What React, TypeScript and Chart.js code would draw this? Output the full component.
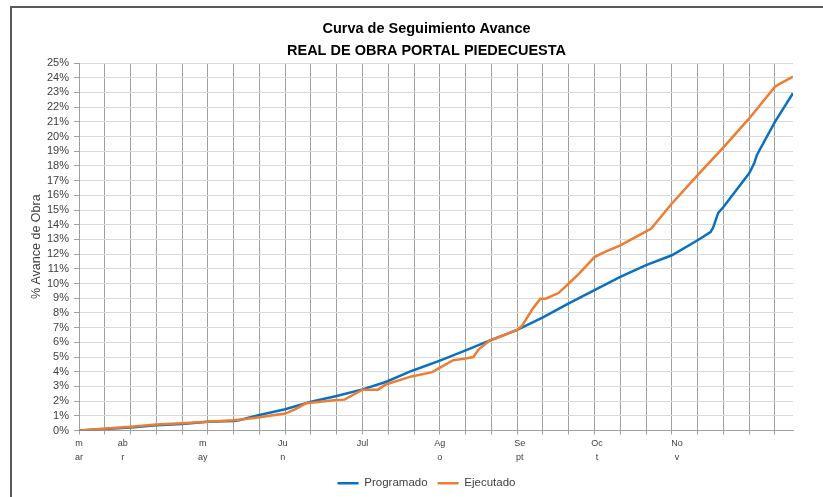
import React, { useEffect, useRef } from 'react';
import { Chart, registerables } from 'chart.js';

Chart.register(...registerables);

const chartTitle = ['Curva de Seguimiento Avance', 'REAL DE OBRA PORTAL PIEDECUESTA'];
const yAxisTitle = '% Avance de Obra';
const seriesNames = ['Programado', 'Ejecutado'];

// day index since start of the series (x) and cumulative % progress (y)
const programadoDays = [0, 5, 20, 30, 40, 50, 60, 62, 70, 80, 90, 100, 110, 119, 129, 140, 150, 159, 170, 180, 190, 200, 210, 220, 230, 240, 245, 246, 248, 250, 260, 262, 263, 270, 277];
const programadoValues = [0, 0.05, 0.2, 0.35, 0.45, 0.6, 0.65, 0.7, 1.05, 1.45, 1.95, 2.35, 2.8, 3.3, 4.05, 4.75, 5.45, 6.1, 6.85, 7.7, 8.65, 9.55, 10.45, 11.25, 11.92, 12.94, 13.5, 13.8, 14.8, 15.2, 17.5, 18.2, 18.75, 21.0, 22.94];

const ejecutadoDays = [0, 20, 30, 40, 50, 60, 63, 70, 80, 84, 88, 100, 103, 110, 116, 119, 129, 137, 145, 150, 153, 155, 159, 170, 172, 176, 179, 181, 186, 190, 194, 200, 204, 210, 220, 222, 230, 240, 250, 260, 270, 272, 277];
const ejecutadoValues = [0, 0.25, 0.4, 0.5, 0.6, 0.7, 0.75, 0.9, 1.15, 1.45, 1.85, 2.08, 2.1, 2.78, 2.78, 3.13, 3.68, 3.97, 4.77, 4.9, 5.0, 5.5, 6.08, 6.85, 7.15, 8.29, 8.97, 8.97, 9.35, 10.0, 10.67, 11.8, 12.15, 12.6, 13.55, 13.74, 15.44, 17.37, 19.26, 21.23, 23.39, 23.6, 24.07];

const monthTickDays = [0, 17, 48, 79, 110, 140, 171, 201, 232];
const monthTickLabels = [['m', 'ar'], ['ab', 'r'], ['m', 'ay'], ['Ju', 'n'], ['Jul'], ['Ag', 'o'], ['Se', 'pt'], ['Oc', 't'], ['No', 'v']];

const gridStepDays = 10;
const lastDay = 277;
const yMin = 0;
const yMax = 25;

const FONT = "'Liberation Sans', Arial, sans-serif";
const BLUE = '#0a70c2';
const ORANGE = '#ed7d31';
const VGRID = '#a0a0a0';
const HGRID = '#d9d9d9';
const TEXT = '#404040';

export default function App() {
  const canvasRef = useRef<HTMLCanvasElement | null>(null);

  useEffect(() => {
    if (!canvasRef.current) return;
    const gridDays: number[] = [];
    for (let d = 0; d <= lastDay; d += gridStepDays) gridDays.push(d);
    const isGrid = (v: any) => typeof v === 'number' && v % gridStepDays === 0;
    const vColor = (ctx: any) => (isGrid(ctx.tick && ctx.tick.value) ? VGRID : 'rgba(0,0,0,0)');

    const chart = new Chart(canvasRef.current, {
      type: 'line',
      data: {
        datasets: [
          {
            label: seriesNames[0],
            data: programadoDays.map((d, i) => ({ x: d, y: programadoValues[i] })),
            borderColor: BLUE,
            backgroundColor: BLUE,
            borderWidth: 2.5,
            pointRadius: 0,
            tension: 0,
            order: 1,
          },
          {
            label: seriesNames[1],
            data: ejecutadoDays.map((d, i) => ({ x: d, y: ejecutadoValues[i] })),
            borderColor: ORANGE,
            backgroundColor: ORANGE,
            borderWidth: 2.5,
            pointRadius: 0,
            tension: 0,
            order: 0,
          },
        ],
      },
      options: {
        animation: false,
        responsive: true,
        maintainAspectRatio: false,
        layout: { padding: { left: 30, right: 0, top: 0, bottom: -2 } },
        plugins: {
          title: {
            display: true,
            text: chartTitle,
            color: '#000',
            font: { family: FONT, size: 14.5, weight: 'bold', lineHeight: 22 / 14.5 },
            padding: { top: 18, bottom: 1 },
          },
          legend: {
            position: 'bottom',
            labels: {
              usePointStyle: true,
              pointStyle: 'line',
              pointStyleWidth: 21,
              color: TEXT,
              font: { family: FONT, size: 11.5 },
              padding: 10,
              sort: (a: any, b: any) => a.datasetIndex - b.datasetIndex,
            },
          },
          tooltip: { enabled: false },
        },
        scales: {
          x: {
            type: 'linear',
            min: 0,
            max: lastDay,
            afterBuildTicks: (s: any) => {
              const set = Array.from(new Set([...gridDays, ...monthTickDays])).sort((a, b) => a - b);
              s.ticks = set.map((v) => ({ value: v }));
            },
            afterFit: (s: any) => {
              s.height = 37;
            },
            ticks: {
              autoSkip: false,
              maxRotation: 0,
              minRotation: 0,
              padding: 2,
              color: TEXT,
              font: { family: FONT, size: 9, lineHeight: 14 / 9 },
              callback: (v: any) => {
                const k = monthTickDays.indexOf(Number(v));
                return k >= 0 ? monthTickLabels[k] : '';
              },
            },
            grid: {
              color: vColor,
              tickColor: vColor,
              tickLength: 4,
              lineWidth: 1,
            },
            border: { color: VGRID },
          },
          y: {
            type: 'linear',
            min: yMin,
            max: yMax,
            afterFit: (s: any) => {
              s.width = 49;
            },
            ticks: {
              stepSize: 1,
              autoSkip: false,
              padding: 5,
              color: TEXT,
              font: { family: FONT, size: 11 },
              callback: (v: any) => `${v}%`,
            },
            grid: { color: HGRID, tickColor: VGRID, tickLength: 5, lineWidth: 1 },
            border: { color: VGRID },
            title: {
              display: true,
              text: yAxisTitle,
              color: TEXT,
              font: { family: FONT, size: 12.5, lineHeight: 1 },
              padding: 0,
            },
          },
          y2: {
            type: 'linear',
            position: 'right',
            display: true,
            grid: { display: false, drawOnChartArea: false },
            ticks: { display: false },
            border: { display: false },
            afterFit: (s: any) => {
              s.width = 30;
            },
          },
        },
      } as any,
    });
    return () => chart.destroy();
  }, []);

  return (
    <div style={{ position: 'fixed', left: 0, top: 0, width: 823, height: 497, background: '#fff' }}>
      <canvas ref={canvasRef} />
      <div style={{ position: 'absolute', left: 10, top: 6, width: 813, height: 0, borderTop: '2px solid #5a5a5a', pointerEvents: 'none' }} />
      <div style={{ position: 'absolute', left: 10, top: 6, width: 0, height: 491, borderLeft: '2px solid #5a5a5a', pointerEvents: 'none' }} />
    </div>
  );
}
